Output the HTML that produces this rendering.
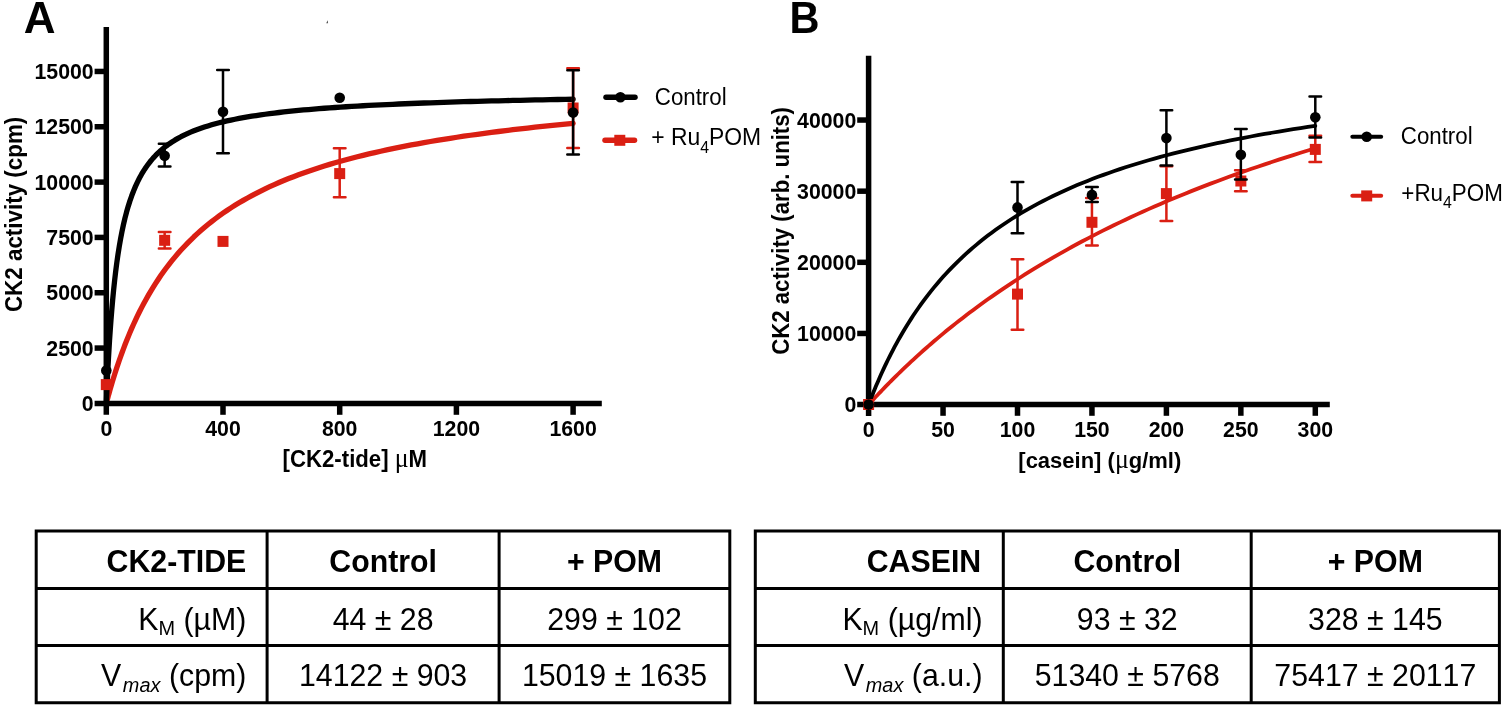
<!DOCTYPE html>
<html lang="en"><head><meta charset="utf-8"><title>CK2 kinetics</title>
<style>html,body{margin:0;padding:0;background:#fff}svg{display:block}text{font-family:"Liberation Sans",Arial,Helvetica,sans-serif;fill:#000;font-kerning:none}.b{font-weight:bold}.mu{font-family:"Liberation Serif","DejaVu Serif",serif;font-weight:normal}</style></head><body>
<svg width="1505" height="709" viewBox="0 0 1505 709">
<rect width="1505" height="709" fill="#fff"/>
<text class="b" transform="translate(23.8 32.7)" font-size="44">A</text>
<polyline points="106.3,403.4 106.33,403.28 106.43,402.91 106.59,402.29 106.82,401.44 107.11,400.34 107.47,399.01 107.89,397.46 108.37,395.68 108.93,393.69 109.54,391.49 110.22,389.1 110.97,386.52 111.78,383.76 112.65,380.84 113.59,377.75 114.6,374.53 115.67,371.17 116.8,367.68 118,364.09 119.27,360.39 120.6,356.6 121.99,352.73 123.45,348.8 124.97,344.8 126.56,340.75 128.21,336.67 129.93,332.55 131.71,328.41 133.56,324.26 135.47,320.1 137.45,315.94 139.49,311.79 141.6,307.65 143.77,303.52 146.01,299.43 148.31,295.36 150.68,291.33 153.11,287.33 155.61,283.38 158.17,279.47 160.79,275.61 163.48,271.79 166.24,268.04 169.06,264.33 171.94,260.68 174.89,257.09 177.91,253.56 180.99,250.09 184.13,246.68 187.34,243.33 190.62,240.04 193.95,236.81 197.36,233.65 200.83,230.55 204.36,227.5 207.96,224.52 211.62,221.6 215.35,218.74 219.14,215.94 223,213.2 226.92,210.52 230.91,207.89 234.96,205.33 239.08,202.81 243.26,200.35 247.51,197.95 251.82,195.6 256.19,193.3 260.64,191.05 265.14,188.85 269.71,186.71 274.35,184.61 279.05,182.55 283.81,180.54 288.64,178.58 293.54,176.66 298.5,174.79 303.52,172.96 308.61,171.16 313.77,169.41 318.99,167.7 324.27,166.03 329.62,164.39 335.03,162.79 340.51,161.23 346.05,159.7 351.66,158.2 357.33,156.74 363.07,155.31 368.88,153.91 374.74,152.55 380.67,151.21 386.67,149.9 392.73,148.62 398.86,147.37 405.05,146.15 411.31,144.95 417.63,143.78 424.02,142.63 430.47,141.51 436.98,140.41 443.56,139.33 450.21,138.28 456.92,137.25 463.69,136.24 470.53,135.25 477.44,134.28 484.41,133.34 491.44,132.41 498.54,131.5 505.71,130.61 512.93,129.74 520.23,128.88 527.59,128.05 535.01,127.23 542.5,126.42 550.05,125.63 557.67,124.86 565.35,124.1 573.1,123.36" fill="none" stroke="#DA1F13" stroke-width="5.3" stroke-linecap="round" stroke-linejoin="round"/>
<polyline points="106.3,403.4 106.33,402.61 106.43,400.27 106.59,396.46 106.82,391.26 107.11,384.84 107.47,377.36 107.89,368.99 108.37,359.92 108.93,350.33 109.54,340.39 110.22,330.26 110.97,320.06 111.78,309.92 112.65,299.93 113.59,290.17 114.6,280.69 115.67,271.55 116.8,262.77 118,254.36 119.27,246.35 120.6,238.74 121.99,231.51 123.45,224.67 124.97,218.2 126.56,212.09 128.21,206.33 129.93,200.89 131.71,195.76 133.56,190.93 135.47,186.37 137.45,182.08 139.49,178.03 141.6,174.22 143.77,170.62 146.01,167.23 148.31,164.02 150.68,161 153.11,158.14 155.61,155.44 158.17,152.88 160.79,150.47 163.48,148.18 166.24,146.01 169.06,143.95 171.94,142 174.89,140.15 177.91,138.39 180.99,136.72 184.13,135.13 187.34,133.61 190.62,132.17 193.95,130.8 197.36,129.49 200.83,128.25 204.36,127.06 207.96,125.92 211.62,124.83 215.35,123.79 219.14,122.8 223,121.85 226.92,120.94 230.91,120.07 234.96,119.23 239.08,118.43 243.26,117.66 247.51,116.92 251.82,116.21 256.19,115.53 260.64,114.88 265.14,114.25 269.71,113.64 274.35,113.06 279.05,112.5 283.81,111.96 288.64,111.43 293.54,110.93 298.5,110.45 303.52,109.98 308.61,109.53 313.77,109.09 318.99,108.67 324.27,108.26 329.62,107.87 335.03,107.49 340.51,107.12 346.05,106.76 351.66,106.42 357.33,106.08 363.07,105.76 368.88,105.45 374.74,105.14 380.67,104.85 386.67,104.56 392.73,104.29 398.86,104.02 405.05,103.76 411.31,103.5 417.63,103.26 424.02,103.02 430.47,102.78 436.98,102.56 443.56,102.34 450.21,102.13 456.92,101.92 463.69,101.72 470.53,101.52 477.44,101.33 484.41,101.14 491.44,100.96 498.54,100.78 505.71,100.61 512.93,100.44 520.23,100.28 527.59,100.12 535.01,99.97 542.5,99.81 550.05,99.67 557.67,99.52 565.35,99.38 573.1,99.24" fill="none" stroke="#000" stroke-width="5.3" stroke-linecap="round" stroke-linejoin="round"/>
<path d="M106.3 27V414.8M94.6 403.4H601.8" stroke="#000" stroke-width="5.5" fill="none"/>
<path d="M94.6 348.07H106" stroke="#000" stroke-width="5.5"/>
<path d="M94.6 292.75H106" stroke="#000" stroke-width="5.5"/>
<path d="M94.6 237.42H106" stroke="#000" stroke-width="5.5"/>
<path d="M94.6 182.1H106" stroke="#000" stroke-width="5.5"/>
<path d="M94.6 126.77H106" stroke="#000" stroke-width="5.5"/>
<path d="M94.6 71.45H106" stroke="#000" stroke-width="5.5"/>
<path d="M223 403V414.8" stroke="#000" stroke-width="5.5"/>
<path d="M339.7 403V414.8" stroke="#000" stroke-width="5.5"/>
<path d="M456.4 403V414.8" stroke="#000" stroke-width="5.5"/>
<path d="M573.1 403V414.8" stroke="#000" stroke-width="5.5"/>
<text class="b" transform="translate(93.7 411.1) scale(0.9434 1)" font-size="22.58" text-anchor="end">0</text>
<text class="b" transform="translate(93.7 355.77) scale(0.9434 1)" font-size="22.58" text-anchor="end">2500</text>
<text class="b" transform="translate(93.7 300.45) scale(0.9434 1)" font-size="22.58" text-anchor="end">5000</text>
<text class="b" transform="translate(93.7 245.12) scale(0.9434 1)" font-size="22.58" text-anchor="end">7500</text>
<text class="b" transform="translate(93.7 189.8) scale(0.9434 1)" font-size="22.58" text-anchor="end">10000</text>
<text class="b" transform="translate(93.7 134.47) scale(0.9434 1)" font-size="22.58" text-anchor="end">12500</text>
<text class="b" transform="translate(93.7 79.15) scale(0.9434 1)" font-size="22.58" text-anchor="end">15000</text>
<text class="b" transform="translate(106.3 436.1) scale(0.9434 1)" font-size="22.58" text-anchor="middle">0</text>
<text class="b" transform="translate(223 436.1) scale(0.9434 1)" font-size="22.58" text-anchor="middle">400</text>
<text class="b" transform="translate(339.7 436.1) scale(0.9434 1)" font-size="22.58" text-anchor="middle">800</text>
<text class="b" transform="translate(456.4 436.1) scale(0.9434 1)" font-size="22.58" text-anchor="middle">1200</text>
<text class="b" transform="translate(573.1 436.1) scale(0.9434 1)" font-size="22.58" text-anchor="middle">1600</text>
<text class="b" transform="translate(282.6 467) scale(0.9569 1)" font-size="23.2">[CK2-tide] <tspan class="mu" font-size="27">μ</tspan>M</text>
<text class="b" transform="translate(21.8 312.1) rotate(-90) scale(0.9569 1)" font-size="23.41">CK2 activity (cpm)</text>
<path d="M164.65 232.1V248.4M158.85 232.1H170.45M158.85 248.4H170.45" stroke="#DA1F13" stroke-width="2.5" stroke-linecap="round" fill="none"/>
<rect x="159.15" y="234.8" width="11" height="11" fill="#DA1F13"/>
<rect x="217.5" y="235.9" width="11" height="11" fill="#DA1F13"/>
<path d="M339.7 148.2V197.3M333.9 148.2H345.5M333.9 197.3H345.5" stroke="#DA1F13" stroke-width="2.5" stroke-linecap="round" fill="none"/>
<rect x="334.2" y="168.1" width="11" height="11" fill="#DA1F13"/>
<path d="M573.1 68.2V147.9M567.3 68.2H578.9M567.3 147.9H578.9" stroke="#DA1F13" stroke-width="2.5" stroke-linecap="round" fill="none"/>
<rect x="567.6" y="102.5" width="11" height="11" fill="#DA1F13"/>
<rect x="100.8" y="379.1" width="11" height="11" fill="#DA1F13"/>
<circle cx="106.3" cy="370.6" r="5.3" fill="#000"/>
<path d="M164.65 143.8V166.5M158.85 143.8H170.45M158.85 166.5H170.45" stroke="#000" stroke-width="2.5" stroke-linecap="round" fill="none"/>
<circle cx="164.65" cy="155.7" r="5.3" fill="#000"/>
<path d="M223 70.1V153.3M217.2 70.1H228.8M217.2 153.3H228.8" stroke="#000" stroke-width="2.5" stroke-linecap="round" fill="none"/>
<circle cx="223" cy="111.7" r="5.3" fill="#000"/>
<circle cx="339.7" cy="97.8" r="5.3" fill="#000"/>
<path d="M573.1 70.3V154.6M567.3 70.3H578.9M567.3 154.6H578.9" stroke="#000" stroke-width="2.5" stroke-linecap="round" fill="none"/>
<circle cx="573.1" cy="112.6" r="5.3" fill="#000"/>
<path d="M606 97.3H635" stroke="#000" stroke-width="5.5" stroke-linecap="round"/>
<circle cx="620.4" cy="97.3" r="5.3" fill="#000"/>
<text transform="translate(654.8 105) scale(0.9615 1)" font-size="23.19">Control</text>
<path d="M605 140.3H634.5" stroke="#DA1F13" stroke-width="5.5" stroke-linecap="round"/>
<rect x="614.3" y="134.8" width="11" height="11" fill="#DA1F13"/>
<text transform="translate(651.2 145.2) scale(0.9615 1)" font-size="23.82">+ Ru<tspan font-size="16.5" dy="7.6">4</tspan><tspan dy="-7.6">POM</tspan></text>
<path d="M326.2 23.2L327.7 20.2L328.1 23.2Z" fill="#555"/>
<text class="b" transform="translate(789.4 32.7) scale(0.9434 1)" font-size="44">B</text>
<polyline points="868.6,404.6 868.63,404.57 868.72,404.46 868.88,404.29 869.1,404.06 869.38,403.75 869.72,403.38 870.12,402.94 870.59,402.43 871.11,401.85 871.7,401.21 872.35,400.51 873.07,399.74 873.84,398.9 874.68,398 875.58,397.04 876.54,396.02 877.57,394.93 878.65,393.78 879.8,392.57 881.01,391.31 882.28,389.98 883.61,388.6 885.01,387.16 886.47,385.66 887.99,384.11 889.57,382.51 891.21,380.86 892.92,379.15 894.69,377.39 896.52,375.59 898.41,373.74 900.37,371.84 902.38,369.89 904.46,367.9 906.6,365.87 908.8,363.79 911.07,361.68 913.39,359.53 915.78,357.33 918.23,355.11 920.75,352.84 923.32,350.54 925.96,348.21 928.66,345.85 931.42,343.46 934.24,341.04 937.13,338.59 940.07,336.11 943.08,333.61 946.15,331.08 949.29,328.53 952.48,325.96 955.74,323.37 959.06,320.76 962.44,318.13 965.88,315.48 969.39,312.82 972.95,310.15 976.58,307.45 980.28,304.75 984.03,302.04 987.84,299.31 991.72,296.58 995.66,293.84 999.66,291.08 1003.73,288.33 1007.85,285.57 1012.04,282.8 1016.29,280.03 1020.6,277.25 1024.98,274.48 1029.41,271.7 1033.91,268.92 1038.47,266.15 1043.09,263.37 1047.78,260.6 1052.52,257.83 1057.33,255.06 1062.2,252.3 1067.13,249.54 1072.13,246.78 1077.18,244.04 1082.3,241.3 1087.48,238.56 1092.73,235.84 1098.03,233.12 1103.4,230.41 1108.83,227.71 1114.32,225.02 1119.87,222.34 1125.48,219.67 1131.16,217.01 1136.9,214.37 1142.7,211.73 1148.56,209.11 1154.49,206.5 1160.48,203.9 1166.52,201.32 1172.64,198.75 1178.81,196.2 1185.04,193.65 1191.34,191.13 1197.7,188.61 1204.12,186.11 1210.6,183.63 1217.15,181.16 1223.76,178.71 1230.43,176.28 1237.16,173.85 1243.95,171.45 1250.81,169.06 1257.73,166.69 1264.71,164.33 1271.75,161.99 1278.85,159.67 1286.02,157.36 1293.24,155.07 1300.53,152.8 1307.89,150.54 1315.3,148.3" fill="none" stroke="#DA1F13" stroke-width="3.8" stroke-linecap="round" stroke-linejoin="round"/>
<polyline points="868.6,404.6 868.63,404.52 868.72,404.27 868.88,403.87 869.1,403.3 869.38,402.57 869.72,401.68 870.12,400.63 870.59,399.44 871.11,398.09 871.7,396.6 872.35,394.96 873.07,393.19 873.84,391.28 874.68,389.24 875.58,387.07 876.54,384.79 877.57,382.39 878.65,379.89 879.8,377.27 881.01,374.56 882.28,371.76 883.61,368.87 885.01,365.9 886.47,362.86 887.99,359.74 889.57,356.57 891.21,353.33 892.92,350.04 894.69,346.7 896.52,343.32 898.41,339.9 900.37,336.45 902.38,332.97 904.46,329.47 906.6,325.96 908.8,322.42 911.07,318.88 913.39,315.33 915.78,311.78 918.23,308.23 920.75,304.69 923.32,301.15 925.96,297.63 928.66,294.12 931.42,290.62 934.24,287.15 937.13,283.69 940.07,280.27 943.08,276.86 946.15,273.49 949.29,270.14 952.48,266.82 955.74,263.54 959.06,260.29 962.44,257.07 965.88,253.89 969.39,250.75 972.95,247.65 976.58,244.58 980.28,241.55 984.03,238.56 987.84,235.61 991.72,232.7 995.66,229.83 999.66,227.01 1003.73,224.22 1007.85,221.47 1012.04,218.77 1016.29,216.1 1020.6,213.48 1024.98,210.9 1029.41,208.36 1033.91,205.85 1038.47,203.39 1043.09,200.97 1047.78,198.59 1052.52,196.24 1057.33,193.94 1062.2,191.67 1067.13,189.44 1072.13,187.25 1077.18,185.09 1082.3,182.98 1087.48,180.89 1092.73,178.85 1098.03,176.84 1103.4,174.86 1108.83,172.92 1114.32,171.01 1119.87,169.13 1125.48,167.29 1131.16,165.48 1136.9,163.7 1142.7,161.95 1148.56,160.24 1154.49,158.55 1160.48,156.89 1166.52,155.26 1172.64,153.66 1178.81,152.09 1185.04,150.54 1191.34,149.03 1197.7,147.53 1204.12,146.07 1210.6,144.63 1217.15,143.21 1223.76,141.82 1230.43,140.46 1237.16,139.12 1243.95,137.8 1250.81,136.5 1257.73,135.23 1264.71,133.98 1271.75,132.75 1278.85,131.54 1286.02,130.35 1293.24,129.18 1300.53,128.03 1307.89,126.91 1315.3,125.8" fill="none" stroke="#000" stroke-width="3.8" stroke-linecap="round" stroke-linejoin="round"/>
<path d="M868.6 55.8V416M857.2 404.6H1329.8" stroke="#000" stroke-width="5.5" fill="none"/>
<path d="M857.2 333.46H868" stroke="#000" stroke-width="5.5"/>
<path d="M857.2 262.32H868" stroke="#000" stroke-width="5.5"/>
<path d="M857.2 191.18H868" stroke="#000" stroke-width="5.5"/>
<path d="M857.2 120.04H868" stroke="#000" stroke-width="5.5"/>
<path d="M943.05 404V415.8" stroke="#000" stroke-width="5.5"/>
<path d="M1017.5 404V415.8" stroke="#000" stroke-width="5.5"/>
<path d="M1091.95 404V415.8" stroke="#000" stroke-width="5.5"/>
<path d="M1166.4 404V415.8" stroke="#000" stroke-width="5.5"/>
<path d="M1240.85 404V415.8" stroke="#000" stroke-width="5.5"/>
<path d="M1315.3 404V415.8" stroke="#000" stroke-width="5.5"/>
<text class="b" transform="translate(856.3 412.4) scale(0.9434 1)" font-size="22.58" text-anchor="end">0</text>
<text class="b" transform="translate(856.3 341.26) scale(0.9434 1)" font-size="22.58" text-anchor="end">10000</text>
<text class="b" transform="translate(856.3 270.12) scale(0.9434 1)" font-size="22.58" text-anchor="end">20000</text>
<text class="b" transform="translate(856.3 198.98) scale(0.9434 1)" font-size="22.58" text-anchor="end">30000</text>
<text class="b" transform="translate(856.3 127.84) scale(0.9434 1)" font-size="22.58" text-anchor="end">40000</text>
<text class="b" transform="translate(868.6 436.6) scale(0.9434 1)" font-size="22.58" text-anchor="middle">0</text>
<text class="b" transform="translate(943.05 436.6) scale(0.9434 1)" font-size="22.58" text-anchor="middle">50</text>
<text class="b" transform="translate(1017.5 436.6) scale(0.9434 1)" font-size="22.58" text-anchor="middle">100</text>
<text class="b" transform="translate(1091.95 436.6) scale(0.9434 1)" font-size="22.58" text-anchor="middle">150</text>
<text class="b" transform="translate(1166.4 436.6) scale(0.9434 1)" font-size="22.58" text-anchor="middle">200</text>
<text class="b" transform="translate(1240.85 436.6) scale(0.9434 1)" font-size="22.58" text-anchor="middle">250</text>
<text class="b" transform="translate(1315.3 436.6) scale(0.9434 1)" font-size="22.58" text-anchor="middle">300</text>
<text class="b" transform="translate(1018.3 467.8) scale(0.9569 1)" font-size="22.99">[casein] (<tspan class="mu" font-size="27">μ</tspan>g/ml)</text>
<text class="b" transform="translate(789.2 354.8) rotate(-90) scale(0.9569 1)" font-size="23.2">CK2 activity (arb. units)</text>
<rect x="863.1" y="399" width="11" height="11" fill="#DA1F13"/>
<path d="M1017.5 259.3V329.7M1011.7 259.3H1023.3M1011.7 329.7H1023.3" stroke="#DA1F13" stroke-width="2.5" stroke-linecap="round" fill="none"/>
<rect x="1012" y="288.6" width="11" height="11" fill="#DA1F13"/>
<path d="M1091.95 198V245.4M1086.15 198H1097.75M1086.15 245.4H1097.75" stroke="#DA1F13" stroke-width="2.5" stroke-linecap="round" fill="none"/>
<rect x="1086.45" y="216.8" width="11" height="11" fill="#DA1F13"/>
<path d="M1166.4 166.2V221M1160.6 166.2H1172.2M1160.6 221H1172.2" stroke="#DA1F13" stroke-width="2.5" stroke-linecap="round" fill="none"/>
<rect x="1160.9" y="188.1" width="11" height="11" fill="#DA1F13"/>
<path d="M1240.85 170.2V191.2M1235.05 170.2H1246.65M1235.05 191.2H1246.65" stroke="#DA1F13" stroke-width="2.5" stroke-linecap="round" fill="none"/>
<rect x="1235.35" y="175.5" width="11" height="11" fill="#DA1F13"/>
<path d="M1315.3 135.8V162M1309.5 135.8H1321.1M1309.5 162H1321.1" stroke="#DA1F13" stroke-width="2.5" stroke-linecap="round" fill="none"/>
<rect x="1309.8" y="143.9" width="11" height="11" fill="#DA1F13"/>
<circle cx="868.6" cy="404.6" r="5.3" fill="#000"/>
<path d="M1017.5 182.1V233.2M1011.7 182.1H1023.3M1011.7 233.2H1023.3" stroke="#000" stroke-width="2.5" stroke-linecap="round" fill="none"/>
<circle cx="1017.5" cy="207.4" r="5.3" fill="#000"/>
<path d="M1091.95 187.1V202M1086.15 187.1H1097.75M1086.15 202H1097.75" stroke="#000" stroke-width="2.5" stroke-linecap="round" fill="none"/>
<circle cx="1091.95" cy="194.9" r="5.3" fill="#000"/>
<path d="M1166.4 110.3V165.5M1160.6 110.3H1172.2M1160.6 165.5H1172.2" stroke="#000" stroke-width="2.5" stroke-linecap="round" fill="none"/>
<circle cx="1166.4" cy="138.1" r="5.3" fill="#000"/>
<path d="M1240.85 128.9V179.4M1235.05 128.9H1246.65M1235.05 179.4H1246.65" stroke="#000" stroke-width="2.5" stroke-linecap="round" fill="none"/>
<circle cx="1240.85" cy="154.7" r="5.3" fill="#000"/>
<path d="M1315.3 96.5V137.4M1309.5 96.5H1321.1M1309.5 137.4H1321.1" stroke="#000" stroke-width="2.5" stroke-linecap="round" fill="none"/>
<circle cx="1315.3" cy="117.3" r="5.3" fill="#000"/>
<path d="M1352.3 136.7H1381.2" stroke="#000" stroke-width="3.9" stroke-linecap="round"/>
<circle cx="1366.7" cy="136.7" r="5.3" fill="#000"/>
<text transform="translate(1400.8 144.2) scale(0.9615 1)" font-size="23.19">Control</text>
<path d="M1352.3 195.8H1381.2" stroke="#DA1F13" stroke-width="3.9" stroke-linecap="round"/>
<rect x="1361.2" y="190.4" width="11" height="11" fill="#DA1F13"/>
<text transform="translate(1401.3 200.5) scale(0.9615 1)" font-size="23.3">+Ru<tspan font-size="16.5" dy="7.6">4</tspan><tspan dy="-7.6">POM</tspan></text>
<path d="M36.2 531H729.8V702.8H36.2ZM36.2 588.4H729.8M36.2 645.4H729.8M267.1 531V702.8M499.1 531V702.8" fill="none" stroke="#000" stroke-width="3"/>
<text class="b" transform="translate(246.3 572.2) scale(0.9662 1)" font-size="31.36" text-anchor="end">CK2-TIDE</text>
<text class="b" transform="translate(383.1 572.2) scale(0.9662 1)" font-size="31.36" text-anchor="middle">Control</text>
<text class="b" transform="translate(614.45 572.2) scale(0.9662 1)" font-size="31.36" text-anchor="middle">+ POM</text>
<text transform="translate(246.3 629.7) scale(0.9662 1)" font-size="31.36" text-anchor="end">K<tspan font-size="20.6" dy="5.5">M</tspan><tspan dy="-5.5"> </tspan>(µM)</text>
<text transform="translate(383.1 629.7) scale(0.9662 1)" font-size="31.36" text-anchor="middle">44 ± 28</text>
<text transform="translate(614.45 629.7) scale(0.9662 1)" font-size="31.36" text-anchor="middle">299 ± 102</text>
<text transform="translate(246.3 686.3) scale(0.9662 1)" font-size="31.36" text-anchor="end">V<tspan font-size="20.6" dy="5.5" font-style="italic" dx="1.6">max</tspan><tspan dy="-5.5"> </tspan>(cpm)</text>
<text transform="translate(383.1 686.3) scale(0.9662 1)" font-size="31.36" text-anchor="middle">14122 ± 903</text>
<text transform="translate(614.45 686.3) scale(0.9662 1)" font-size="31.36" text-anchor="middle">15019 ± 1635</text>
<path d="M755.3 531H1499.4V702.8H755.3ZM755.3 588.4H1499.4M755.3 645.4H1499.4M1003.3 531V702.8M1251.2 531V702.8" fill="none" stroke="#000" stroke-width="3"/>
<text class="b" transform="translate(981.2 572.2) scale(0.9662 1)" font-size="31.36" text-anchor="end">CASEIN</text>
<text class="b" transform="translate(1127.25 572.2) scale(0.9662 1)" font-size="31.36" text-anchor="middle">Control</text>
<text class="b" transform="translate(1375.3 572.2) scale(0.9662 1)" font-size="31.36" text-anchor="middle">+ POM</text>
<text transform="translate(982.5 629.7) scale(0.9662 1)" font-size="31.36" text-anchor="end">K<tspan font-size="20.6" dy="5.5">M</tspan><tspan dy="-5.5"> </tspan>(µg/ml)</text>
<text transform="translate(1127.25 629.7) scale(0.9662 1)" font-size="31.36" text-anchor="middle">93 ± 32</text>
<text transform="translate(1375.3 629.7) scale(0.9662 1)" font-size="31.36" text-anchor="middle">328 ± 145</text>
<text transform="translate(982.5 686.3) scale(0.9662 1)" font-size="31.36" text-anchor="end">V<tspan font-size="20.6" dy="5.5" font-style="italic" dx="1.6">max</tspan><tspan dy="-5.5"> </tspan>(a.u.)</text>
<text transform="translate(1127.25 686.3) scale(0.9662 1)" font-size="31.36" text-anchor="middle">51340 ± 5768</text>
<text transform="translate(1375.3 686.3) scale(0.9662 1)" font-size="31.36" text-anchor="middle">75417 ± 20117</text>
</svg></body></html>
